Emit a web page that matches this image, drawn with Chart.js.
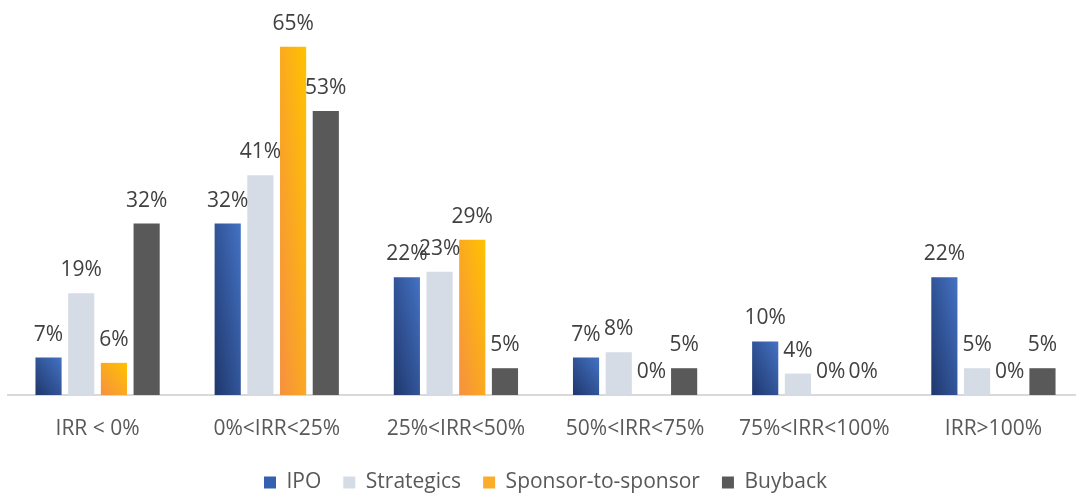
<!DOCTYPE html>
<html>
<head>
<meta charset="utf-8">
<script src="https://cdn.jsdelivr.net/npm/chart.js@4"></script>
<style>
  html, body { margin: 0; padding: 0; background: #fff; overflow: hidden; }
  #wrap { width: 1100px; height: 503px; }
</style>
</head>
<body>
<div id="wrap"><canvas id="chart"></canvas></div>
<script>
const categories = ['IRR < 0%', '0%<IRR<25%', '25%<IRR<50%', '50%<IRR<75%', '75%<IRR<100%', 'IRR>100%'];
const ipo = [7, 32, 22, 7, 10, 22];
const strategics = [19, 41, 23, 8, 4, 5];
const sponsorToSponsor = [6, 65, 29, 0, 0, 0];
const buyback = [32, 53, 5, 5, 0, 5];

const FONT = "'Open Sans', sans-serif";
const FONT_SIZE = 21;

// office style diagonal gradient: bottom-left corner to top-right corner, scaled to the bar
// (options are shared between bars, so copy them first)
const gradientFill = {
	id: 'gradientFill',
	beforeDatasetsDraw(chart) {
		const ctx = chart.ctx;
		chart.data.datasets.forEach((ds, i) => {
			if (!ds.gradient) return;
			chart.getDatasetMeta(i).data.forEach(bar => {
				const w = bar.width;
				const h = Math.max(bar.base - bar.y, 1);
				const left = bar.x - w / 2;
				const L2 = w * w + h * h;
				const g = ctx.createLinearGradient(left, bar.base, left + 2 * w * h * h / L2, bar.base - 2 * w * w * h / L2);
				g.addColorStop(0, ds.gradient[0]);
				g.addColorStop(1, ds.gradient[1]);
				bar.options = Object.assign({}, bar.options, { backgroundColor: g });
			});
		});
	},
};

const valueLabels = {
	id: 'valueLabels',
	afterDatasetsDraw(chart) {
		const ctx = chart.ctx;
		ctx.save();
		ctx.font = FONT_SIZE + 'px ' + FONT;
		ctx.fillStyle = '#404040';
		ctx.textAlign = 'center';
		ctx.textBaseline = 'alphabetic';
		chart.data.datasets.forEach((ds, i) => {
			chart.getDatasetMeta(i).data.forEach((bar, j) => {
				ctx.fillText(ds.data[j] + '%', bar.x, bar.y - 17);
			});
		});
		ctx.restore();
	},
};

new Chart(document.getElementById('chart'), {
	type: 'bar',
	data: {
		labels: categories,
		datasets: [
			{ label: 'IPO', data: ipo, backgroundColor: '#3560b0', gradient: ['#1f376c', '#4472c4'] },
			{ label: 'Strategics', data: strategics, backgroundColor: '#d6dce5' },
			{ label: 'Sponsor-to-sponsor', data: sponsorToSponsor, backgroundColor: '#fbad2a', gradient: ['#f69040', '#ffc200'] },
			{ label: 'Buyback', data: buyback, backgroundColor: '#595959' },
		],
	},
	options: {
		responsive: true,
		maintainAspectRatio: false,
		animation: false,
		datasets: {
			bar: { barPercentage: 0.8, categoryPercentage: 0.73 },
		},
		layout: { padding: { left: 8, right: 17, top: 20, bottom: 0 } },
		scales: {
			x: {
				grid: { display: false, drawTicks: false },
				border: { color: '#d9d9d9', width: 2 },
				ticks: { color: '#595959', font: { family: FONT, size: FONT_SIZE }, padding: 21 },
				afterFit(scale) { scale.height = 55; },
			},
			y: {
				display: false,
				min: 0,
				max: 70,
			},
		},
		plugins: {
			legend: {
				position: 'bottom',
				labels: {
					color: '#595959',
					font: { family: FONT, size: FONT_SIZE },
					boxWidth: 12,
					boxHeight: 12,
					padding: 22,
				},
			},
			tooltip: { enabled: false },
		},
	},
	plugins: [gradientFill, valueLabels],
});
</script>
</body>
</html>
